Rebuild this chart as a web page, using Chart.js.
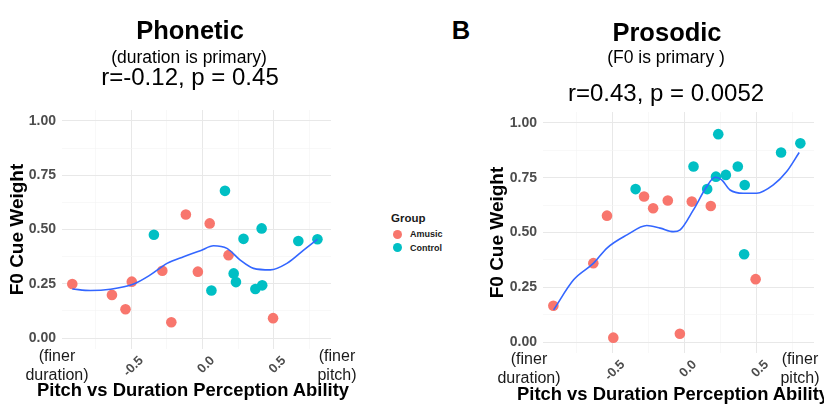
<!DOCTYPE html>
<html>
<head>
<meta charset="utf-8">
<script src="https://cdn.jsdelivr.net/npm/chart.js@4/dist/chart.umd.min.js"></script>
<style>
body { margin: 0; width: 824px; height: 408px; position: relative; background: #fff; overflow: hidden;
       font-family: 'Liberation Sans', Arial, sans-serif; }
canvas { position: absolute; top: 0; }
.t { position: absolute; white-space: nowrap; transform: translateX(-50%); text-align: center; color: #000; }
.xt { position: absolute; white-space: nowrap; color: #000; font-size: 18.4px; line-height: 22px; font-weight: bold; }
.fin { position: absolute; white-space: nowrap; transform: translateX(-50%); text-align: center;
       color: #1a1a1a; font-size: 16px; line-height: 19px; }
.leg { position: absolute; white-space: nowrap; font-weight: bold; color: #1a1a1a; }
.dot { position: absolute; width: 9px; height: 9px; border-radius: 50%; }
</style>
</head>
<body>
<canvas id="phonetic" width="340" height="408" style="left:0"></canvas>
<canvas id="prosodic" width="344" height="408" style="left:480px"></canvas>

<div class="t" style="left:190px;top:15px;font-size:25.5px;line-height:30px;font-weight:bold">Phonetic</div>
<div class="t" style="left:189px;top:46px;font-size:17.5px;line-height:22px">(duration is primary)</div>
<div class="t" style="left:190px;top:63px;font-size:24px;line-height:28px">r=-0.12, p = 0.45</div>

<div class="t" style="left:461px;top:15px;font-size:25.5px;line-height:30px;font-weight:bold">B</div>

<div class="t" style="left:667px;top:17px;font-size:25.5px;line-height:30px;font-weight:bold">Prosodic</div>
<div class="t" style="left:666px;top:46px;font-size:17.5px;line-height:22px">(F0 is primary )</div>
<div class="t" style="left:666px;top:79px;font-size:24px;line-height:28px">r=0.43, p = 0.0052</div>

<div class="fin" style="left:57px;top:346px">(finer<br>duration)</div>
<div class="fin" style="left:337px;top:346px">(finer<br>pitch)</div>
<div class="fin" style="left:529px;top:349px">(finer<br>duration)</div>
<div class="fin" style="left:800px;top:349px">(finer<br>pitch)</div>

<div class="xt" style="left:37px;top:379px">Pitch vs Duration Perception Ability</div>
<div class="xt" style="left:517px;top:383px">Pitch vs Duration Perception Ability</div>

<div class="leg" style="left:391px;top:211px;font-size:11.5px;line-height:14px">Group</div>
<div class="dot" style="left:393px;top:230px;background:#F8766D"></div>
<div class="leg" style="left:410px;top:228px;font-size:9px;line-height:12px">Amusic</div>
<div class="dot" style="left:393px;top:243px;background:#00BFC4"></div>
<div class="leg" style="left:410px;top:242px;font-size:9px;line-height:12px">Control</div>

<script>
// x = pitch vs duration ability, same participants in both panels
const amusicX = [-0.913, -0.635, -0.540, -0.496, -0.282, -0.219, -0.117, -0.033, 0.050, 0.182, 0.494];
const controlX = [-0.341, 0.062, 0.157, 0.218, 0.234, 0.287, 0.370, 0.414, 0.418, 0.671, 0.805];

// F0 cue weight
const phoneticAmusic = [0.249, 0.199, 0.133, 0.260, 0.310, 0.073, 0.569, 0.306, 0.528, 0.382, 0.092];
const phoneticControl = [0.476, 0.219, 0.678, 0.298, 0.258, 0.457, 0.226, 0.505, 0.243, 0.447, 0.455];
const prosodicAmusic = [0.166, 0.360, 0.577, 0.020, 0.664, 0.611, 0.646, 0.038, 0.641, 0.621, 0.287];
const prosodicControl = [0.698, 0.801, 0.698, 0.755, 0.949, 0.763, 0.801, 0.401, 0.717, 0.865, 0.907];

// loess curves
const phoneticSmoothX = [-0.913, -0.786, -0.646, -0.483, -0.366, -0.249, -0.133, -0.016, 0.077, 0.171, 0.264, 0.357, 0.474, 0.591, 0.708, 0.805];
const phoneticSmoothY = [0.226, 0.219, 0.225, 0.249, 0.291, 0.344, 0.375, 0.402, 0.425, 0.413, 0.359, 0.321, 0.314, 0.344, 0.405, 0.455];
const prosodicSmoothX = [-0.911, -0.772, -0.633, -0.540, -0.401, -0.263, -0.170, -0.078, -0.031, 0.061, 0.154, 0.212, 0.258, 0.316, 0.408, 0.501, 0.617, 0.710, 0.797];
const prosodicSmoothY = [0.147, 0.284, 0.360, 0.429, 0.489, 0.532, 0.520, 0.504, 0.512, 0.603, 0.710, 0.752, 0.740, 0.694, 0.679, 0.679, 0.717, 0.778, 0.865];

const xTicks = [-0.75, -0.5, -0.25, 0, 0.25, 0.5, 0.75];
const xTickLabels = ['', '-0.5', '', '0.0', '', '0.5', ''];
const yTicks = [0, 0.125, 0.25, 0.375, 0.5, 0.625, 0.75, 0.875, 1];
const yTickLabels = ['0.00', '', '0.25', '', '0.50', '', '0.75', '', '1.00'];

Chart.defaults.font.family = "'Liberation Sans', Arial, sans-serif";

const pts = (xs, ys) => xs.map((x, i) => ({ x: x, y: ys[i] }));
const gridColor = labels => c => labels[c.index] ? '#e8e8e8' : '#f3f3f3';

function buildChart(id, amusicY, controlY, smoothX, smoothY, box) {
  new Chart(document.getElementById(id), {
    type: 'scatter',
    data: {
      datasets: [
        { label: 'loess', data: pts(smoothX, smoothY), showLine: true, borderColor: '#3366FF',
          borderWidth: 1.6, pointRadius: 0, tension: 0.4, cubicInterpolationMode: 'monotone', order: 0 },
        { label: 'Amusic', data: pts(amusicX, amusicY), backgroundColor: '#F8766D', borderColor: '#F8766D',
          borderWidth: 0, pointRadius: 5.3, order: 1 },
        { label: 'Control', data: pts(controlX, controlY), backgroundColor: '#00BFC4', borderColor: '#00BFC4',
          borderWidth: 0, pointRadius: 5.3, order: 2 },
      ],
    },
    options: {
      responsive: false,
      animation: false,
      layout: { padding: { left: 0, right: box.right, top: box.top, bottom: 0 } },
      plugins: { legend: { display: false }, tooltip: { enabled: false } },
      scales: {
        x: {
          type: 'linear', min: -0.985, max: 0.9,
          afterBuildTicks: s => { s.ticks = xTicks.map(v => ({ value: v })); },
          afterFit: s => { s.height = box.xh; },
          ticks: { autoSkip: false, minRotation: 45, maxRotation: 45, labelOffset: 10, padding: 4,
                   callback: (v, i) => xTickLabels[i], color: '#4d4d4d', font: { size: 13, weight: 'bold' } },
          grid: { color: gridColor(xTickLabels), lineWidth: c => xTickLabels[c.index] ? 1 : 0.6, drawTicks: false },
          border: { display: false },
        },
        y: {
          min: -0.05, max: 1.05,
          afterBuildTicks: s => { s.ticks = yTicks.map(v => ({ value: v })); },
          afterFit: s => { s.width = box.yw; },
          ticks: { padding: 6, callback: (v, i) => yTickLabels[i], color: '#4d4d4d', font: { size: 14, weight: 'bold' } },
          grid: { color: gridColor(yTickLabels), lineWidth: c => yTickLabels[c.index] ? 1 : 0.6, drawTicks: false },
          border: { display: false },
          title: { display: true, text: 'F0 Cue Weight', color: '#000',
                   font: { size: 19, weight: 'bold' }, padding: { top: 6, bottom: 0 } },
        },
      },
    },
  });
}

buildChart('phonetic', phoneticAmusic, phoneticControl, phoneticSmoothX, phoneticSmoothY,
  { yw: 62, right: 9, top: 110, xh: 59 });
buildChart('prosodic', prosodicAmusic, prosodicControl, prosodicSmoothX, prosodicSmoothY,
  { yw: 63, right: 10, top: 112, xh: 55 });
</script>
</body>
</html>
